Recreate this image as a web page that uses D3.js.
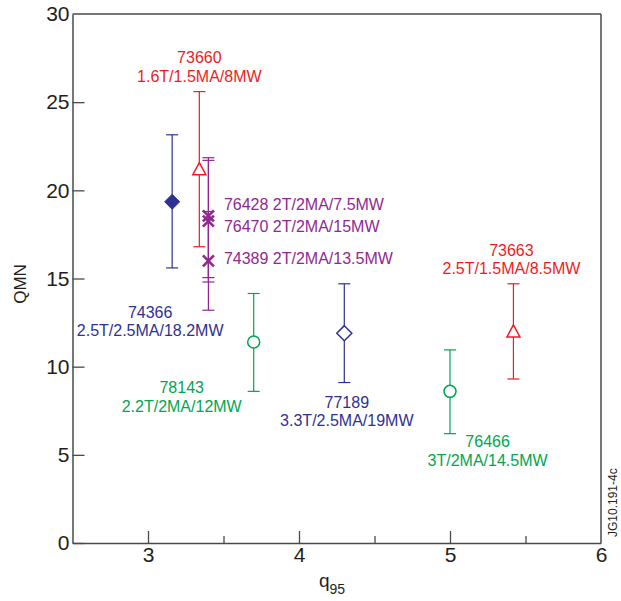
<!DOCTYPE html>
<html>
<head>
<meta charset="utf-8">
<script src="https://cdn.jsdelivr.net/npm/d3@7"></script>
<style>
  html, body { margin: 0; padding: 0; background: #fff; }
  svg { display: block; font-family: "Liberation Sans", Arial, Helvetica, sans-serif; }
</style>
</head>
<body>
<svg id="chart" width="621" height="601"></svg>
<script>
// ---- data ----
const shots   = ["74366", "73660", "76428", "76470", "74389", "78143", "77189", "76466", "73663"];
const params  = ["2.5T/2.5MA/18.2MW", "1.6T/1.5MA/8MW", "2T/2MA/7.5MW", "2T/2MA/15MW", "2T/2MA/13.5MW",
                 "2.2T/2MA/12MW", "3.3T/2.5MA/19MW", "3T/2MA/14.5MW", "2.5T/1.5MA/8.5MW"];
const q95     = [3.16, 3.34, 3.40, 3.40, 3.40, 3.70, 4.30, 5.00, 5.42];
const qmn     = [19.35, 21.2, 18.55, 18.25, 16.0, 11.4, 11.9, 8.6, 12.0];
const errLow  = [15.6, 16.8, 15.05, 14.8, 13.2, 8.6, 9.1, 6.2, 9.3];
const errHigh = [23.15, 25.6, 21.85, 21.7, 18.8, 14.15, 14.7, 10.95, 14.7];
const groups  = ["blue", "red", "purple", "purple", "purple", "green", "blue", "green", "red"];
const markers = ["diamondFilled", "triangle", "cross", "cross", "cross", "circle", "diamond", "circle", "triangle"];
const xMajorTicks = [3, 4, 5, 6];
const xMinorTicks = [3.5, 4.5, 5.5];
const yTicks = [0, 5, 10, 15, 20, 25, 30];

// ---- styles / layout ----
const colors = { blue: "#2e3192", red: "#ed1c24", purple: "#92278f", green: "#00a651" };
// label layout: [dx, dy of first baseline, mode] relative to the point in pixels
const labelLayout = [
  [-22, 116, "stack"], [0, -106, "stack"], [15.5, -6, "inline"], [15.5, 10.5, "inline"], [15.5, 3.4, "inline"],
  [-72, 51.3, "stack"], [2.5, 74.5, "stack"], [37.6, 56, "stack"], [-2, -75.5, "stack"]
];

const svg = d3.select("#chart");
const pLeft = 72.5, pRight = 601, pTop = 14, pBottom = 543;
const x = d3.scaleLinear().domain([2.5, 6]).range([pLeft, pRight]);
const y = d3.scaleLinear().domain([0, 30]).range([pBottom, pTop]);
const axisColor = "#4a4a4a";

// frame (top and right)
svg.append("line").attr("x1", pLeft).attr("x2", pRight).attr("y1", pTop).attr("y2", pTop)
  .attr("stroke", axisColor).attr("stroke-width", 1.5);
svg.append("line").attr("x1", pRight).attr("x2", pRight).attr("y1", pTop).attr("y2", pBottom)
  .attr("stroke", axisColor).attr("stroke-width", 1.5);

// y axis
const gy = svg.append("g").attr("transform", `translate(${pLeft},0)`)
  .call(d3.axisLeft(y).tickValues(yTicks).tickSize(-12).tickSizeOuter(0).tickPadding(3));
// x axis major
const gx = svg.append("g").attr("transform", `translate(0,${pBottom})`)
  .call(d3.axisBottom(x).tickValues(xMajorTicks).tickSize(-12).tickSizeOuter(0).tickPadding(4).tickFormat(d3.format("d")));
// x axis minor
const gxm = svg.append("g").attr("transform", `translate(0,${pBottom})`)
  .call(d3.axisBottom(x).tickValues(xMinorTicks).tickSize(-7).tickSizeOuter(0).tickFormat(""));
gxm.select(".domain").remove();
[gy, gx, gxm].forEach(g => {
  g.select(".domain").attr("stroke", axisColor).attr("stroke-width", 1.5);
  g.selectAll(".tick line").attr("stroke", axisColor).attr("stroke-width", 1.3);
  g.selectAll(".tick text").attr("fill", "#231f20").style("font-size", "21px")
    .style("font-family", "'Liberation Sans', Arial, sans-serif");
});
gy.selectAll(".tick").filter(d => d === 30).select("line").remove();
gx.selectAll(".tick").filter(d => d === 6).select("line").remove();

// axis titles
svg.append("text").attr("transform", `translate(26,284) rotate(-90)`)
  .attr("text-anchor", "middle").attr("fill", "#231f20").style("font-size", "17px").text("QMN");
const xt = svg.append("text").attr("x", 319).attr("y", 586.6).attr("fill", "#231f20").style("font-size", "19px");
xt.append("tspan").text("q");
xt.append("tspan").attr("dy", 7.7).style("font-size", "14px").text("95");

// figure id
svg.append("text").attr("transform", `translate(617,537) rotate(-90)`)
  .attr("fill", "#231f20").style("font-size", "12px").text("JG10.191-4c");

// error bars
const cap = 6;
const idx = d3.range(shots.length);
const eb = svg.append("g");
idx.forEach(i => {
  const c = colors[groups[i]];
  const g = eb.append("g").attr("stroke", c).attr("stroke-width", 1.2).attr("fill", "none");
  g.append("line").attr("x1", x(q95[i])).attr("x2", x(q95[i])).attr("y1", y(errLow[i])).attr("y2", y(errHigh[i]));
  g.append("line").attr("x1", x(q95[i]) - cap).attr("x2", x(q95[i]) + cap).attr("y1", y(errLow[i])).attr("y2", y(errLow[i]));
  g.append("line").attr("x1", x(q95[i]) - cap).attr("x2", x(q95[i]) + cap).attr("y1", y(errHigh[i])).attr("y2", y(errHigh[i]));
});

// markers
const mk = svg.append("g");
idx.forEach(i => {
  const c = colors[groups[i]];
  const cx = x(q95[i]), cy = y(qmn[i]);
  const g = mk.append("g").attr("transform", `translate(${cx},${cy})`);
  switch (markers[i]) {
    case "diamondFilled":
      g.append("path").attr("d", "M0,-7.5L7.5,0L0,7.5L-7.5,0Z").attr("fill", c).attr("stroke", c).attr("stroke-width", 1);
      break;
    case "diamond":
      g.append("path").attr("d", "M0,-7.5L7.5,0L0,7.5L-7.5,0Z").attr("fill", "#fff").attr("stroke", c).attr("stroke-width", 1.5);
      break;
    case "triangle":
      g.append("path").attr("d", "M0,-6.5L6.5,5.5L-6.5,5.5Z").attr("fill", "#fff").attr("stroke", c).attr("stroke-width", 1.5);
      break;
    case "circle":
      g.append("circle").attr("r", 6).attr("fill", "#fff").attr("stroke", c).attr("stroke-width", 1.5);
      break;
    case "cross":
      g.append("path").attr("d", "M-5.5,-5.5L5.5,5.5M-5.5,5.5L5.5,-5.5").attr("stroke", c).attr("stroke-width", 2.6).attr("fill", "none");
      break;
  }
});

// labels
const lg = svg.append("g").style("font-size", "16px");
idx.forEach(i => {
  const c = colors[groups[i]];
  const [dx, dy, mode] = labelLayout[i];
  const px = x(q95[i]) + dx, py = y(qmn[i]) + dy;
  if (mode === "inline") {
    lg.append("text").attr("x", px).attr("y", py).attr("fill", c).text(shots[i] + " " + params[i]);
  } else {
    const t = lg.append("text").attr("text-anchor", "middle").attr("fill", c);
    t.append("tspan").attr("x", px).attr("y", py).text(shots[i]);
    t.append("tspan").attr("x", px).attr("y", py + 18.5).text(params[i]);
  }
});
</script>
</body>
</html>
